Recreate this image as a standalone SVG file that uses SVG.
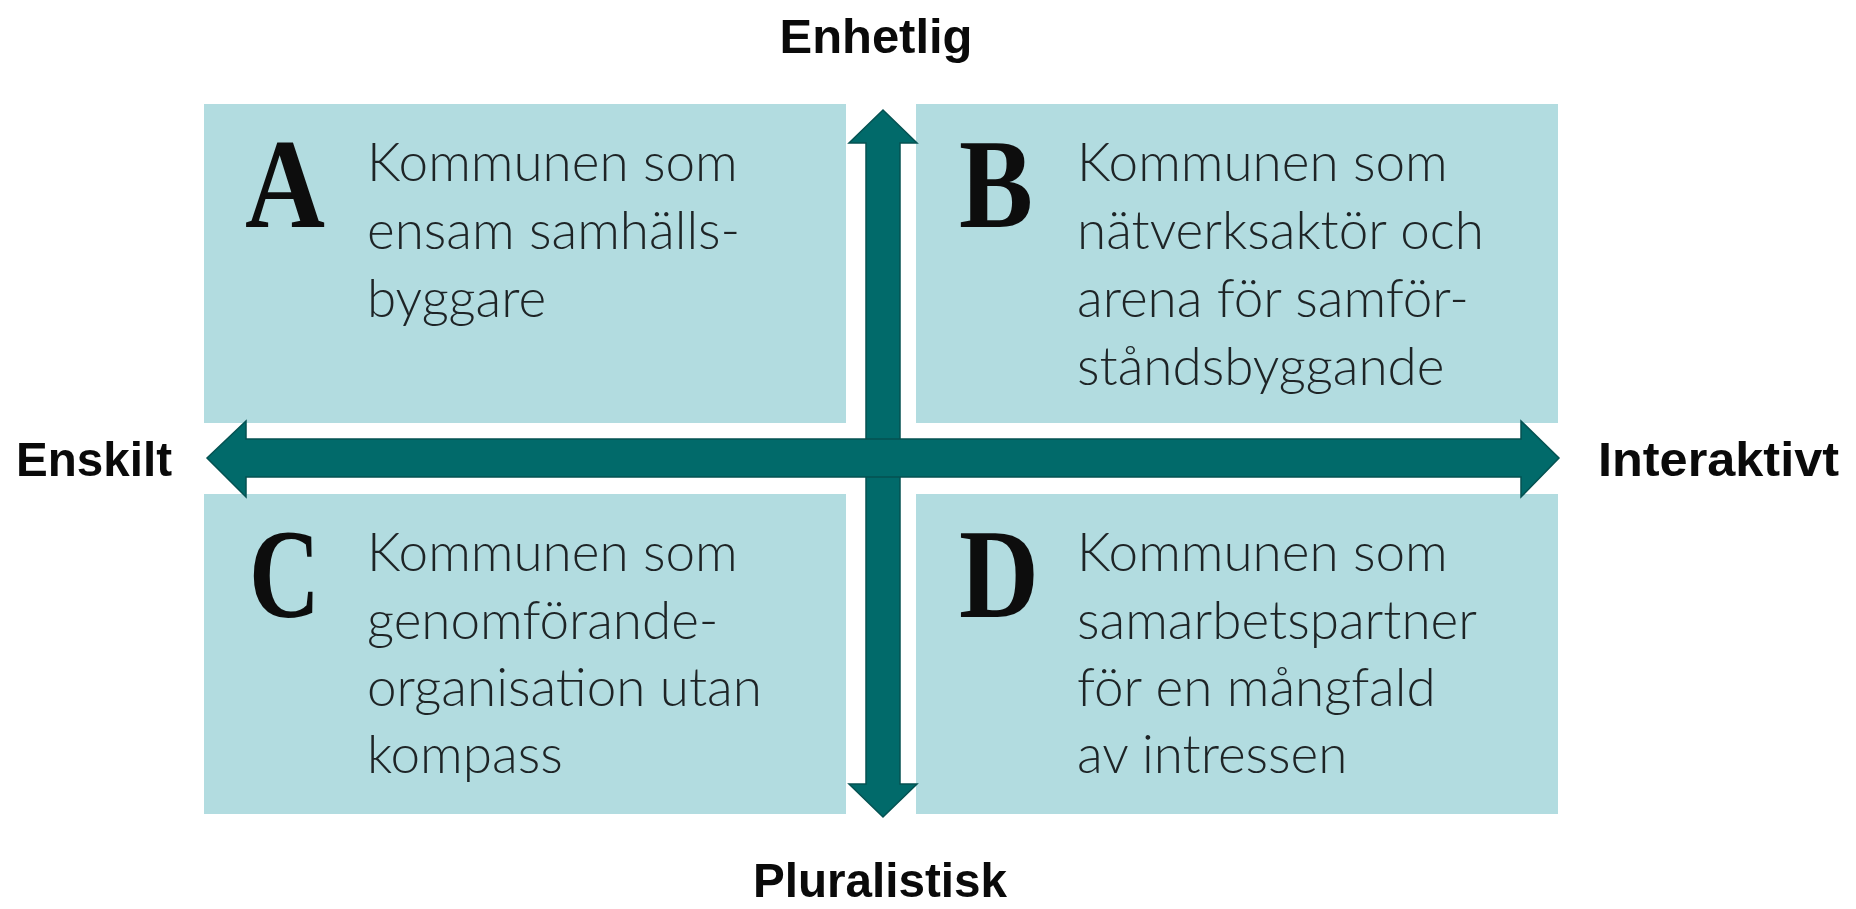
<svg xmlns="http://www.w3.org/2000/svg" width="1856" height="909" viewBox="0 0 1856 909">
<style>
.box{fill:#b2dce0}
.letter{font-family:"Liberation Serif",serif;font-weight:bold;font-size:126px;fill:#0d0d0d}
.body{font-family:Lato,"Liberation Sans",sans-serif;font-weight:300;font-size:53px;fill:#1e2426}
.axis{font-family:"Liberation Sans",Arial,sans-serif;font-weight:bold;font-size:49px;fill:#0a0a0a}
.arrow{fill:#016a6a;stroke:#045252;stroke-width:1.5;stroke-linejoin:miter}
</style>
<rect width="1856" height="909" fill="#ffffff"/>
<g id="quadrant-A">
<rect class="box" x="204" y="104" width="642" height="319"/>
<text class="letter" x="245" y="227" textLength="80" lengthAdjust="spacingAndGlyphs">A</text>
<text class="body"><tspan x="367" y="181">Kommunen som</tspan><tspan x="367" y="249">ensam samhälls-</tspan><tspan x="367" y="317">byggare</tspan></text>
</g>
<g id="quadrant-B">
<rect class="box" x="916" y="104" width="642" height="319"/>
<text class="letter" x="959" y="227" textLength="74" lengthAdjust="spacingAndGlyphs">B</text>
<text class="body"><tspan x="1077" y="181">Kommunen som</tspan><tspan x="1077" y="249">nätverksaktör och</tspan><tspan x="1077" y="317">arena för samför-</tspan><tspan x="1077" y="385">ståndsbyggande</tspan></text>
</g>
<g id="quadrant-C">
<rect class="box" x="204" y="494" width="642" height="320"/>
<text class="letter" x="249" y="617" textLength="71" lengthAdjust="spacingAndGlyphs">C</text>
<text class="body"><tspan x="367" y="571">Kommunen som</tspan><tspan x="367" y="639">genomförande-</tspan><tspan x="367" y="706">organisation utan</tspan><tspan x="367" y="773">kompass</tspan></text>
</g>
<g id="quadrant-D">
<rect class="box" x="916" y="494" width="642" height="320"/>
<text class="letter" x="959" y="617" textLength="80" lengthAdjust="spacingAndGlyphs">D</text>
<text class="body"><tspan x="1077" y="571">Kommunen som</tspan><tspan x="1077" y="639">samarbetspartner</tspan><tspan x="1077" y="706">för en mångfald</tspan><tspan x="1077" y="773">av intressen</tspan></text>
</g>
<g id="connectors">
<polygon id="axis-vertical" class="arrow" points="883,110 917,143 900,143 900,784 917,784 883,817 849,784 866,784 866,143 849,143"/>
<polygon id="axis-horizontal" class="arrow" points="207,458 246,421 246,439 1521,439 1521,421 1559,458 1521,497 1521,477 246,477 246,497"/>
</g>
<g id="label-top"><text class="axis" x="876" y="53" text-anchor="middle" textLength="193" lengthAdjust="spacingAndGlyphs">Enhetlig</text></g>
<g id="label-bottom"><text class="axis" x="880" y="897" text-anchor="middle" textLength="254" lengthAdjust="spacingAndGlyphs">Pluralistisk</text></g>
<g id="label-left"><text class="axis" x="16" y="476" textLength="156" lengthAdjust="spacingAndGlyphs">Enskilt</text></g>
<g id="label-right"><text class="axis" x="1598" y="476" textLength="241" lengthAdjust="spacingAndGlyphs">Interaktivt</text></g>
</svg>
